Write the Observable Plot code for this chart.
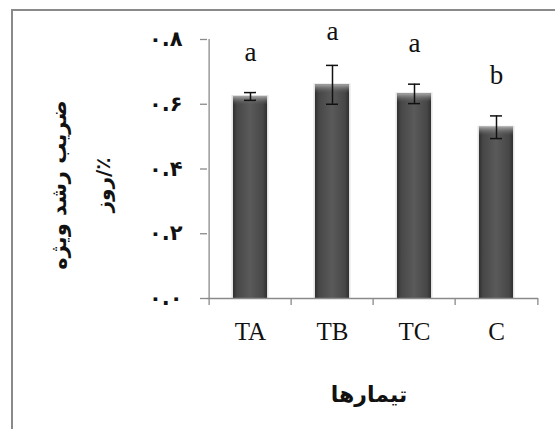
<!DOCTYPE html>
<html>
<head>
<meta charset="utf-8">
<script src="https://cdn.jsdelivr.net/npm/d3@7"></script>
<script src="https://cdn.jsdelivr.net/npm/@observablehq/plot@0.6"></script>
<style>
  html, body { margin: 0; padding: 0; background: #fff; overflow: hidden; }
  #wrap { position: relative; width: 555px; height: 429px; }
  #wrap svg { display: block; position: absolute; left: 0; top: 0; }
  #border { position: absolute; left: 11px; top: 9px; right: -20px; bottom: -20px; border: 2px solid #8a8a8a; }
</style>
</head>
<body>
<div id="wrap"><div id="border"></div></div>
<script>
// ---- data ----
const categories = ["TA", "TB", "TC", "C"];
const means = [0.624, 0.660, 0.632, 0.529];
const errors = [0.012, 0.060, 0.030, 0.035];
const letters = ["a", "a", "a", "b"];
const letterY = [0.735, 0.800, 0.761, 0.663];
const yTicks = [0, 0.2, 0.4, 0.6, 0.8];
const yTickLabels = ["۰.۰", "۰.۲", "۰.۴", "۰.۶", "۰.۸"];
const yTitle = "ضریب رشد ویژه";
const yUnit = "\u200F٪/روز";
const xTitle = "تیمارها";

const data = categories.map((c, i) => ({cat: c, mean: means[i], err: errors[i], letter: letters[i], ly: letterY[i]}));

const W = 555, H = 429, mL = 207, mR = 17, mT = 39, mB = 131;
const bw = (W - mL - mR) / categories.length;
const axisGray = "#8a8a8a";

const chart = Plot.plot({
  width: W, height: H,
  marginLeft: mL, marginRight: mR, marginTop: mT, marginBottom: mB,
  style: {background: "transparent", overflow: "visible"},
  x: {domain: categories, padding: 0, label: null},
  y: {domain: [0, 0.8], label: null},
  marks: [
    // bars (soft halo, body, top bevel)
    Plot.barY(data, {x: "cat", y: "mean", insetLeft: 22.5, insetRight: 22.5, insetTop: -1, fill: "#d8d8d8", fillOpacity: 0.7}),
    Plot.barY(data, {x: "cat", y: "mean", insetLeft: 24, insetRight: 24, fill: "url(#barGrad)"}),
    Plot.barY(data, {x: "cat", y1: "mean", y2: "mean", insetLeft: 24, insetRight: 24, insetBottom: -9, fill: "url(#bevelGrad)"}),
    // axes lines
    Plot.ruleY([0], {stroke: axisGray, strokeWidth: 1.3}),
    Plot.ruleX([categories[0]], {x: d => d, dx: -bw / 2, y1: 0, y2: 0.8, stroke: axisGray, strokeWidth: 1.3}),
    // x boundary ticks
    Plot.ruleX(categories, {x: d => d, dx: -bw / 2, y1: 0, y2: 0, insetBottom: -7, stroke: axisGray, strokeWidth: 1.3}),
    Plot.ruleX([categories[categories.length - 1]], {x: d => d, dx: bw / 2, y1: 0, y2: 0, insetBottom: -7, stroke: axisGray, strokeWidth: 1.3}),
    Plot.axisY({ticks: yTicks, tickFormat: d => yTickLabels[yTicks.indexOf(d)], tickSize: 7, tickPadding: 18,
      stroke: axisGray, strokeWidth: 1.3, fontSize: 21, fontWeight: "bold", fontFamily: "DejaVu Sans", fill: "#111"}),
    Plot.axisX({tickSize: 0, tickPadding: 24, fontSize: 25, fontFamily: "Liberation Serif", fill: "#111"}),
    // error bars
    Plot.ruleX(data, {x: "cat", y1: d => d.mean - d.err, y2: d => d.mean + d.err, stroke: "#111", strokeWidth: 1.5}),
    Plot.tickY(data, {x: "cat", y: d => d.mean + d.err, insetLeft: 35, insetRight: 35, stroke: "#111", strokeWidth: 1.5}),
    Plot.tickY(data, {x: "cat", y: d => d.mean - d.err, insetLeft: 35, insetRight: 35, stroke: "#111", strokeWidth: 1.5}),
    // significance letters
    Plot.text(data, {x: "cat", y: "ly", text: "letter", fontSize: 27, fontFamily: "Liberation Serif", lineAnchor: "bottom", fill: "#111"}),
    // titles
    Plot.text([yTitle], {frameAnchor: "left", textAnchor: "middle", lineAnchor: "middle", rotate: -90, dx: -148, dy: 16,
      fontSize: 21, fontWeight: "bold", fontFamily: "DejaVu Sans", fill: "#111"}),
    Plot.text([yUnit], {frameAnchor: "left", textAnchor: "middle", lineAnchor: "middle", rotate: -90, dx: -104, dy: 16,
      fontSize: 20, fontWeight: "bold", fontFamily: "DejaVu Sans", fill: "#111"}),
    Plot.text([xTitle], {frameAnchor: "bottom", textAnchor: "middle", lineAnchor: "middle", dx: -4, dy: 96,
      fontSize: 22, fontWeight: "bold", fontFamily: "DejaVu Sans", fill: "#111"})
  ]
});

d3.select(chart).insert("defs", ":first-child").html(`
  <linearGradient id="barGrad" x1="0" x2="1" y1="0" y2="0">
    <stop offset="0" stop-color="#2f2f2f"/>
    <stop offset="0.12" stop-color="#474747"/>
    <stop offset="0.5" stop-color="#5a5a5a"/>
    <stop offset="0.88" stop-color="#474747"/>
    <stop offset="1" stop-color="#2f2f2f"/>
  </linearGradient>
  <linearGradient id="bevelGrad" x1="0" x2="0" y1="0" y2="1">
    <stop offset="0" stop-color="#a8a8a8"/>
    <stop offset="1" stop-color="#5a5a5a" stop-opacity="0"/>
  </linearGradient>
`);

document.getElementById("wrap").appendChild(chart);
</script>
</body>
</html>
